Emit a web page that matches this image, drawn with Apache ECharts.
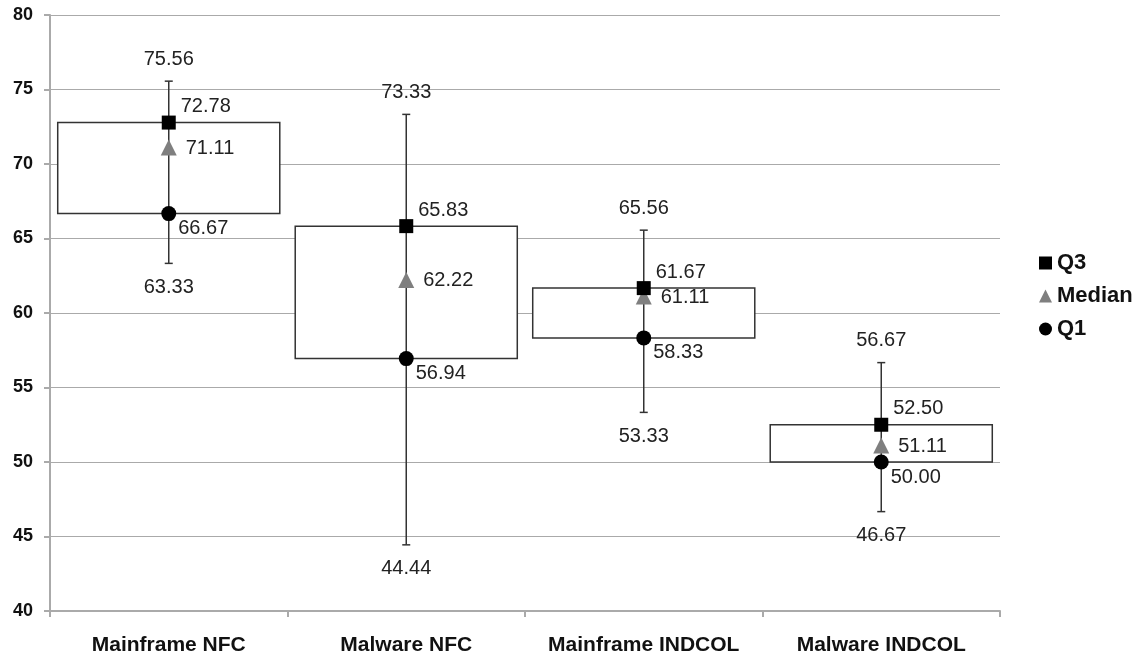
<!DOCTYPE html>
<html lang="en">
<head>
    <meta charset="UTF-8">
    <title>Box chart</title>
    <script src="https://cdn.jsdelivr.net/npm/echarts@6/dist/echarts.min.js"></script>
    <style>
        html, body { margin: 0; padding: 0; background: #fff; }
        #main { width: 1140px; height: 660px; }
    </style>
</head>
<body>
<div id="main"></div>
<script type="text/javascript">
    // chart data
    var categories = ['Mainframe NFC', 'Malware NFC', 'Mainframe INDCOL', 'Malware INDCOL'];
    var maxValues = [75.56, 73.33, 65.56, 56.67];
    var q3Values = [72.78, 65.83, 61.67, 52.50];
    var medianValues = [71.11, 62.22, 61.11, 51.11];
    var q1Values = [66.67, 56.94, 58.33, 50.00];
    var minValues = [63.33, 44.44, 53.33, 46.67];
    var yTicks = [40, 45, 50, 55, 60, 65, 70, 75, 80];

    var FONT = '"Liberation Sans", Arial, sans-serif';

    var boxData = [];
    for (var i = 0; i < categories.length; i++) {
        boxData.push([i, minValues[i], q1Values[i], q3Values[i], maxValues[i]]);
    }

    function fmt(v) {
        return v.toFixed(2);
    }

    // box + whisker drawn with custom series
    function renderBox(params, api) {
        var idx = api.value(0);
        var pMin = api.coord([idx, api.value(1)]);
        var pQ1 = api.coord([idx, api.value(2)]);
        var pQ3 = api.coord([idx, api.value(3)]);
        var pMax = api.coord([idx, api.value(4)]);
        var w = api.size([1, 0])[0] * 0.935;
        var cx = pQ1[0];
        var cap = 4;
        var lineStyle = {stroke: '#333', lineWidth: 1.5};

        return {
            type: 'group',
            children: [
                {
                    type: 'rect',
                    shape: {x: cx - w / 2, y: pQ3[1], width: w, height: pQ1[1] - pQ3[1]},
                    style: {fill: '#fff', stroke: '#333', lineWidth: 1.5}
                },
                {
                    type: 'line',
                    shape: {x1: cx, y1: pMax[1], x2: cx, y2: pMin[1]},
                    style: lineStyle
                },
                {
                    type: 'line',
                    shape: {x1: cx - cap, y1: pMax[1], x2: cx + cap, y2: pMax[1]},
                    style: lineStyle
                },
                {
                    type: 'line',
                    shape: {x1: cx - cap, y1: pMin[1], x2: cx + cap, y2: pMin[1]},
                    style: lineStyle
                },
                {
                    type: 'text',
                    style: {
                        text: fmt(api.value(4)), x: cx, y: pMax[1] - 22,
                        align: 'center', verticalAlign: 'middle',
                        font: '20px ' + FONT, fill: '#222'
                    }
                },
                {
                    type: 'text',
                    style: {
                        text: fmt(api.value(1)), x: cx, y: pMin[1] + 24,
                        align: 'center', verticalAlign: 'middle',
                        font: '20px ' + FONT, fill: '#222'
                    }
                }
            ]
        };
    }

    function pointLabel(offset, distance) {
        return {
            show: true,
            position: 'right',
            distance: distance,
            offset: offset,
            formatter: function (p) { return fmt(p.value); },
            fontFamily: FONT,
            fontSize: 20,
            color: '#222'
        };
    }

    var myChart = echarts.init(document.getElementById('main'));

    var option = {
        animation: false,
        grid: {left: 50, right: 140, top: 15, bottom: 49},
        legend: {
            orient: 'vertical',
            left: 1034,
            top: 247,
            itemWidth: 13,
            itemHeight: 13,
            itemGap: 11,
            textStyle: {fontFamily: FONT, fontSize: 22, fontWeight: 'bold', color: '#111'},
            data: ['Q3', 'Median', 'Q1']
        },
        xAxis: {
            type: 'category',
            data: categories,
            boundaryGap: true,
            axisLine: {lineStyle: {color: '#aaa', width: 2}},
            axisTick: {show: true, interval: 0, length: 6, lineStyle: {color: '#aaa', width: 2}},
            axisLabel: {
                interval: 0, margin: 24, fontFamily: FONT, fontSize: 21, fontWeight: 'bold', color: '#111'
            }
        },
        yAxis: {
            type: 'value',
            min: yTicks[0],
            max: yTicks[yTicks.length - 1],
            interval: 5,
            axisLine: {show: true, lineStyle: {color: '#aaa', width: 2}},
            axisTick: {show: true, length: 6, lineStyle: {color: '#aaa', width: 2}},
            axisLabel: {
                margin: 17, fontFamily: FONT, fontSize: 18, fontWeight: 'bold', color: '#111'
            },
            splitLine: {lineStyle: {color: '#aaa', width: 1}}
        },
        series: [
            {
                name: 'box',
                type: 'custom',
                renderItem: renderBox,
                encode: {x: 0, y: [1, 2, 3, 4]},
                data: boxData,
                z: 2
            },
            {
                name: 'Q3',
                type: 'scatter',
                symbol: 'rect',
                symbolSize: 14,
                itemStyle: {color: '#000', opacity: 1},
                label: pointLabel([0, -16], 5),
                data: q3Values,
                z: 5
            },
            {
                name: 'Median',
                type: 'scatter',
                symbol: 'triangle',
                symbolSize: 16,
                itemStyle: {color: '#7f7f7f', opacity: 1},
                label: pointLabel([0, 1], 9),
                data: medianValues,
                z: 4
            },
            {
                name: 'Q1',
                type: 'scatter',
                symbol: 'circle',
                symbolSize: 15,
                itemStyle: {color: '#000', opacity: 1},
                label: pointLabel([0, 15], 2),
                data: q1Values,
                z: 5
            }
        ]
    };

    myChart.setOption(option);
</script>
</body>
</html>
